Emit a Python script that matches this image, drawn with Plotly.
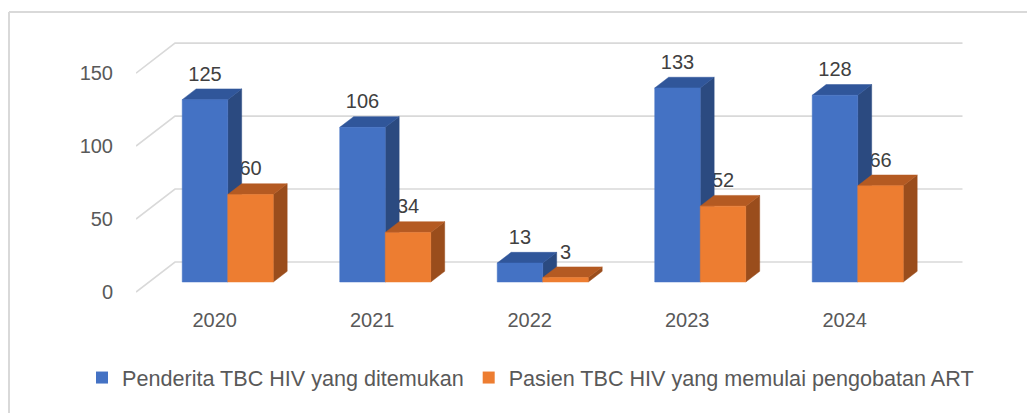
import plotly.graph_objects as go

# ---- data ----
years = ["2020", "2021", "2022", "2023", "2024"]
found = [125, 106, 13, 133, 128]          # Penderita TBC HIV yang ditemukan
started_art = [60, 34, 3, 52, 66]         # Pasien TBC HIV yang memulai pengobatan ART
y_ticks = [0, 50, 100, 150]
series_names = ["Penderita TBC HIV yang ditemukan",
                "Pasien TBC HIV yang memulai pengobatan ART"]

# ---- pseudo-3D geometry (oblique projection) ----
PAGE = 8              # default body margin of the html page
W, H = 1035, 413
# targets in window pixels, converted to figure pixels
ML, MR, MT = 136 - PAGE, 70 + PAGE, 30 - PAGE
MB = H - (300 - PAGE)
PW, PH = W - ML - MR, H - MT - MB
PX_X = 157.5          # px per category
PX_Y = 1.459          # px per value unit
FDX = 39 / PX_X       # full depth shift in x units
FDY = 30 / PX_Y       # full depth shift in y units
D0, D1 = 1 / 3, 0.69  # bar front/back depth
BW = 0.289            # bar width in category units
n = len(years)
x_lo = -0.5
x_hi = x_lo + PW / PX_X
y_lo = -8 / PX_Y
y_hi = y_lo + PH / PX_Y

BLUE = dict(front="#4472C4", top="#30569A", side="#2B4A80")
ORNG = dict(front="#ED7D31", top="#B45A22", side="#9A4D1C")
GRID = "#D9D9D9"
TXT = "#595959"
FONT = "Liberation Sans, Arial, sans-serif"

fig = go.Figure()

# grid: side wall diagonals + back wall lines
gx, gy = [], []
for v in y_ticks:
    gx += [x_lo, x_lo + FDX, n - 0.5 + FDX, None]
    gy += [v, v + FDY, v + FDY, None]
fig.add_trace(go.Scatter(x=gx, y=gy, mode="lines", line=dict(color=GRID, width=1.6),
                         hoverinfo="skip", showlegend=False))

a0, b0 = D0 * FDX, D0 * FDY
a1, b1 = D1 * FDX, D1 * FDY


def faces(values, left_off):
    fx, fy, tx, ty, sx, sy = [], [], [], [], [], []
    for i, v in enumerate(values):
        xl = i + left_off
        xr = xl + BW
        fx += [xl + a0, xr + a0, xr + a0, xl + a0, xl + a0, None]
        fy += [b0, b0, v + b0, v + b0, b0, None]
        tx += [xl + a0, xr + a0, xr + a1, xl + a1, xl + a0, None]
        ty += [v + b0, v + b0, v + b1, v + b1, v + b0, None]
        sx += [xr + a0, xr + a1, xr + a1, xr + a0, xr + a0, None]
        sy += [b0, b1, v + b1, v + b0, b0, None]
    return (fx, fy), (tx, ty), (sx, sy)


def label_trace(values, left_off):
    xs = [i + left_off + BW / 2 + a0 for i in range(n)]
    ys = [v + b0 + 24 / PX_Y for v in values]
    return go.Scatter(x=xs, y=ys, mode="text", text=[str(v) for v in values],
                      textposition="middle center",
                      textfont=dict(family=FONT, size=20, color="#404040"),
                      hoverinfo="skip", showlegend=False)


# orange labels first (partly hidden behind blue bars, as in the original)
fig.add_trace(label_trace(started_art, 0.0))

for values, off, col in [(found, -BW, BLUE), (started_art, 0.0, ORNG)]:
    front, top, side = faces(values, off)
    for (xx, yy), c in [(side, col["side"]), (top, col["top"]), (front, col["front"])]:
        fig.add_trace(go.Scatter(x=xx, y=yy, mode="lines", fill="toself", fillcolor=c,
                                 line=dict(color=c, width=0.5), hoverinfo="skip",
                                 showlegend=False))

fig.add_trace(label_trace(found, -BW))

# legend entries
for name, col in zip(series_names, [BLUE, ORNG]):
    fig.add_trace(go.Scatter(x=[None], y=[None], mode="markers", name=name,
                             marker=dict(symbol="square", size=12, color=col["front"])))


def px_x(xw):   # window px -> paper x
    return (xw - PAGE - ML) / PW


def px_y(yw):   # window px -> paper y
    return (H - MB - (yw - PAGE)) / PH


fig.update_layout(
    width=W, height=H, autosize=False,
    margin=dict(l=ML, r=MR, t=MT, b=MB, autoexpand=False),
    plot_bgcolor="white", paper_bgcolor="white",
    font=dict(family=FONT, size=20, color=TXT),
    showlegend=True,
    legend=dict(orientation="h", x=px_x(82), xanchor="left",
                y=px_y(378), yanchor="middle",
                font=dict(family=FONT, size=21.6, color=TXT), itemclick=False,
                tracegroupgap=0),
    xaxis=dict(range=[x_lo, x_hi], tickvals=list(range(n)), ticktext=years,
               showgrid=False, zeroline=False, showline=False, ticks="outside",
               ticklen=2, tickcolor="rgba(0,0,0,0)", fixedrange=True),
    yaxis=dict(range=[y_lo, y_hi], tickvals=y_ticks, showgrid=False, zeroline=False,
               showline=False, ticks="outside", ticklen=18, tickcolor="rgba(0,0,0,0)",
               fixedrange=True),
    shapes=[dict(type="line", xref="paper", yref="paper", layer="above",
                 x0=px_x(9), x1=px_x(9), y0=px_y(440), y1=px_y(12),
                 line=dict(color=GRID, width=2)),
            dict(type="line", xref="paper", yref="paper", layer="above",
                 x0=px_x(9), x1=px_x(1060), y0=px_y(12), y1=px_y(12),
                 line=dict(color=GRID, width=2))],
)

fig.write_html("out.html")
